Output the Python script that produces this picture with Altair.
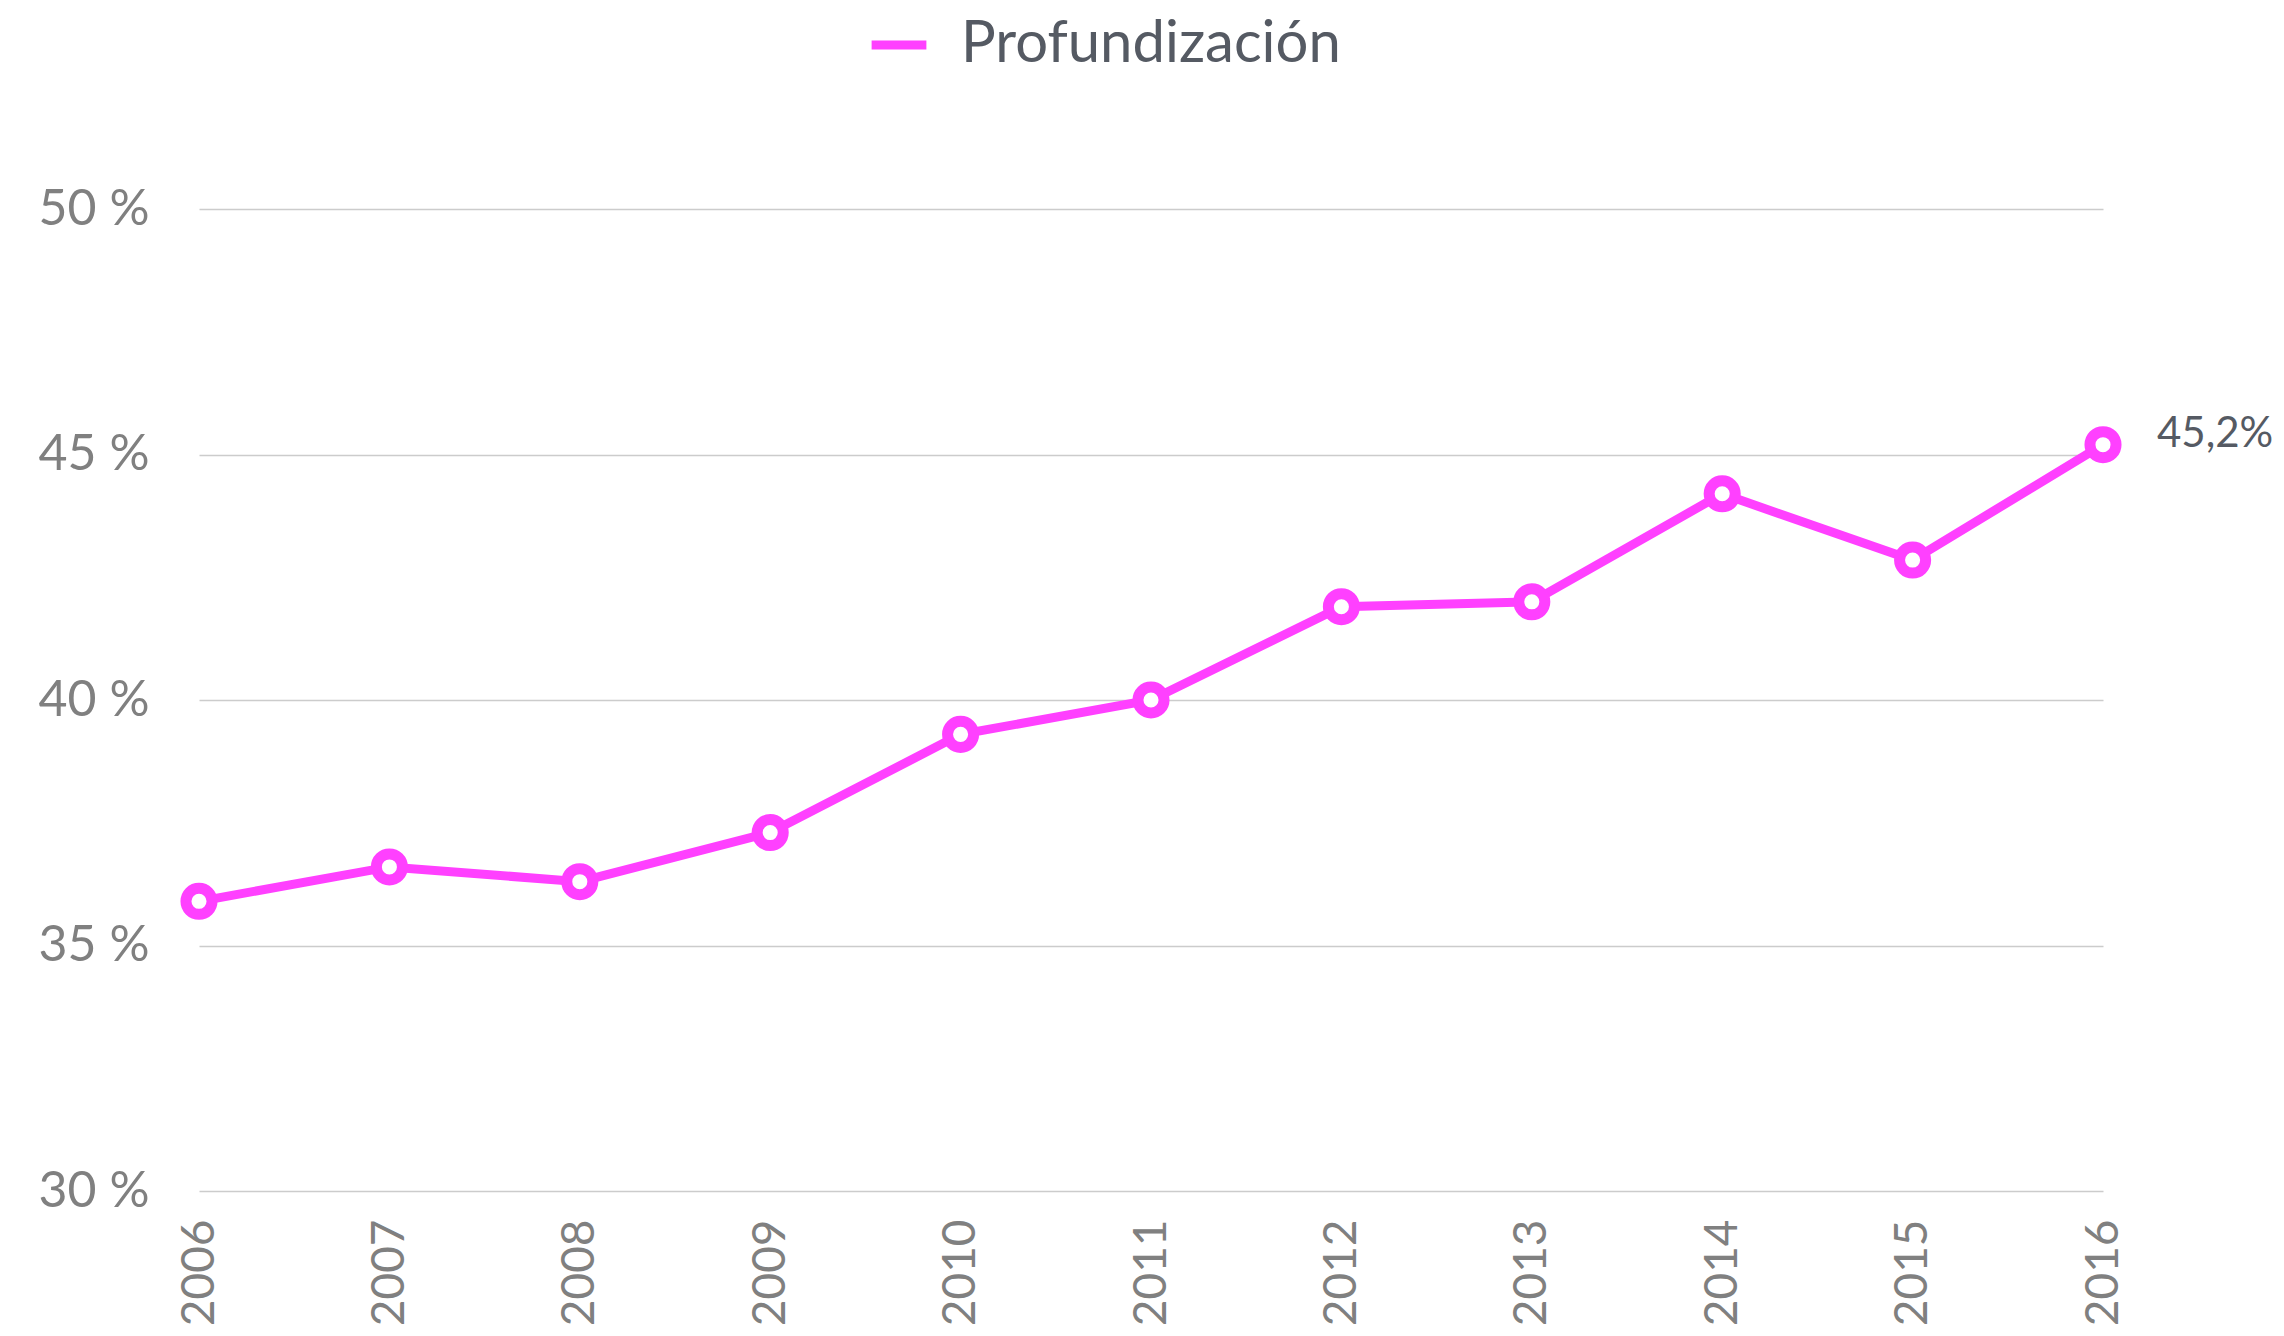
import altair as alt
import pandas as pd

years = ["2006", "2007", "2008", "2009", "2010", "2011", "2012", "2013", "2014", "2015", "2016"]
values = [35.9, 36.6, 36.3, 37.3, 39.3, 40.0, 41.9, 42.0, 44.2, 42.85, 45.2]
series_name = "Profundización"
y_ticks = [30, 35, 40, 45, 50]
last_label = "45,2%"

df = pd.DataFrame({"year": years, "value": values, "series": [series_name] * len(years)})
ann = pd.DataFrame({"year": [years[-1]], "value": [values[-1]], "label": [last_label]})

FONT = "Lato"
MAG = "#ff40ff"

x = alt.X(
    "year:O",
    scale=alt.Scale(type="point", padding=0),
    axis=alt.Axis(
        title=None, labelAngle=270, labelFontSize=46, labelColor="#808080",
        labelFont=FONT, labelPadding=28, domain=False, ticks=False, grid=False,
    ),
)
y = alt.Y(
    "value:Q",
    scale=alt.Scale(domain=[30, 50], nice=False, zero=False),
    axis=alt.Axis(
        title=None, values=y_ticks, labelExpr="datum.value + ' %'",
        labelFontSize=50, labelColor="#808080", labelFont=FONT, labelPadding=50,
        domain=False, ticks=False, grid=True, gridColor="#cccccc", gridWidth=1.5,
    ),
)

line = alt.Chart(df).mark_line(strokeWidth=9).encode(
    x=x,
    y=y,
    color=alt.Color(
        "series:N",
        scale=alt.Scale(range=[MAG]),
        legend=alt.Legend(
            title=None, orient="none", legendX=668, legendY=-196,
            symbolType="stroke", symbolStrokeWidth=9, symbolSize=3000,
            labelFontSize=58, labelColor="#555a63", labelFont=FONT, labelOffset=30,
            labelLimit=1000,
        ),
    ),
)

points = alt.Chart(df).mark_point(
    shape="circle", filled=True, fill="white", stroke=MAG, strokeWidth=11,
    size=680, opacity=1, fillOpacity=1,
).encode(x=x, y=y)

text = alt.Chart(ann).mark_text(
    align="left", baseline="middle", dx=54, dy=-11, fontSize=42,
    font=FONT, color="#555a63",
).encode(x=x, y=y, text="label:N")

chart = (
    alt.layer(line, points, text)
    .properties(
        width=1904, height=982,
        autosize=alt.AutoSizeParams(type="none"),
        padding={"left": 191, "top": 201, "right": 173, "bottom": 137},
        view=alt.ViewBackground(strokeOpacity=0, strokeWidth=0),
    )
    .configure_view(strokeOpacity=0, strokeWidth=0)
    .configure_axisX(grid=False)
    .configure(background="white")
)

chart.save("out.html", embed_options={"renderer": "svg", "actions": False})
